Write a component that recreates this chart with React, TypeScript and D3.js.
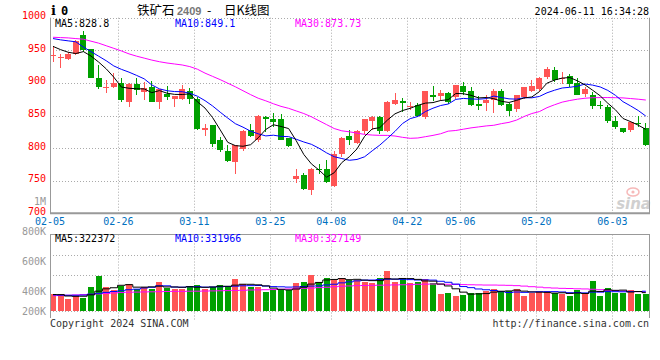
import React from "react";
import * as d3 from "d3";

const dates = [
  "02-05","02-06","02-07","02-08","02-19","02-20","02-21","02-22","02-23","02-26","02-27","02-28","02-29",
  "03-01","03-04","03-05","03-06","03-07","03-08","03-11","03-12","03-13","03-14","03-15","03-18","03-19","03-20","03-21","03-22","03-25","03-26","03-27","03-28","03-29",
  "04-01","04-02","04-03","04-08","04-09","04-10","04-11","04-12","04-15","04-16","04-17","04-18","04-19","04-22","04-23","04-24","04-25","04-26","04-29","04-30",
  "05-06","05-07","05-08","05-09","05-10","05-13","05-14","05-15","05-16","05-17","05-20","05-21","05-22","05-23","05-24","05-27","05-28","05-29","05-30","05-31",
  "06-03","06-04","06-05","06-06","06-07",
];

const opens = [942,939,937,944,973,952,907,893,893,900,871,898,886,893,870,883,876,876,888,876,827,835,813,796,779,798,827,812,848,845,844,815,753,758,736,768,768,742,791,818,808,826,841,848,826,868,873,863,866,847,882,880,884,878,896,888,867,869,874,888,867,860,878,888,890,909,920,907,911,900,883,882,866,863,841,831,827,839,831];
const highs = [957,945,948,966,979,952,927,904,915,907,900,907,902,903,890,895,880,897,892,879,837,836,817,804,804,827,837,851,849,854,853,815,768,762,769,776,782,796,817,827,827,844,849,849,873,884,877,871,869,888,895,889,886,897,901,893,880,881,891,891,869,881,894,904,909,925,924,917,913,907,894,886,873,866,849,831,842,850,838];
const lows = [932,923,935,943,948,907,891,884,892,870,863,881,874,870,860,874,863,874,868,828,819,802,794,778,761,796,817,810,825,832,812,802,746,736,728,760,746,740,787,804,806,822,827,822,825,866,855,858,848,845,873,873,867,876,882,864,859,857,854,864,849,855,876,886,888,906,901,899,893,881,879,860,860,838,830,823,825,832,803];
const closes = [943,940,945,964,950,908,893,894,900,874,899,889,892,871,890,879,880,891,876,829,831,807,797,780,804,826,819,850,844,840,813,803,757,738,768,766,748,791,816,813,826,844,848,826,871,874,869,865,849,888,878,885,871,897,886,866,865,874,888,866,857,881,893,895,907,922,905,908,899,882,891,864,865,842,832,824,840,838,805];

const ma5 = [956,951,947,945,948,941.2,932,921.6,908.8,893.6,891.8,891,890.8,885,888.2,884.2,882.4,882.2,883.2,871,861.4,846.8,828,808.8,803.8,802.8,805.2,815.8,828.6,835.8,833.2,830,811.4,790.2,775.8,766.4,755.4,762.2,777.8,786.8,798.8,818,829.4,831.4,843,852.6,857.6,861,865.6,869,869.8,873,874.2,883.8,883.4,881,877,877.6,875.8,871.8,870,873.2,877,878.4,886.6,899.6,904.4,907.4,908.2,903.2,897,888.8,880.2,868.8,858.8,845.4,840.6,835.2,828.8];
const ma10 = [968,966,964.5,963,955,948,941,934,926,920.8,916.5,911.5,906.2,896.9,890.9,888,886.7,886.5,884.1,879.6,872.8,864.6,855.1,846,837.4,832.1,826,821.9,818.7,819.8,818,817.6,813.6,809.4,805.8,799.8,792.7,786.8,784,781.3,782.6,786.7,795.8,804.6,814.9,825.7,837.8,845.2,848.5,856,861.2,865.3,867.6,874.7,876.2,875.4,875,875.9,879.8,877.6,875.5,875.1,877.3,877.1,879.2,884.8,888.8,892.2,893.3,894.9,898.3,896.6,893.8,888.5,881,871.2,864.7,857.7,849.1];
const ma30 = [970,969.5,969,968,967,964,961,957,953,949,944.5,941,938,935,932.5,930.5,929,927.5,925,921,915,910,905,899.5,894,888,882,876.5,872.5,868,864,861,857,853,848,842,836,830,826.5,825,823,821,820,819.5,819.5,818.5,816.5,815,815.5,817.5,819.5,822,826,827,829,831,832.5,834,835,837.5,839.5,843,848.5,853,856,862,866.5,870.5,873,875,876.5,877.3,877.5,877.5,877.3,877,876,875,873.73];

// volume in thousands of lots
const volumesK = [311,311,280,303,287,358,433,358,339,369,379,350,359,348,392,353,349,349,367,375,350,359,375,365,413,380,357,357,330,340,338,338,387,393,441,393,420,405,421,405,405,392,389,421,468,395,411,385,395,415,388,315,322,300,304,322,322,333,348,333,333,348,300,322,326,326,322,311,300,340,311,400,300,355,323,318,337,316,316];
const vma5K = [310,309,300,298,298.4,307.8,332.2,347.8,355,371.4,375.6,359,359.2,361,365.6,360.4,360.2,358.2,362,358.6,358,360,365.2,364.8,372.4,378.4,378,374.4,367.4,352.8,344.4,340.6,346.6,359.2,379.4,390.4,406.8,410.4,416,408.8,411.2,405.6,402.4,402.4,415,413,416.8,416,410.8,400.2,398.8,379.6,367,348,325.8,312.6,314,316.2,325.8,331.6,333.8,339,332.4,327.2,325.8,324.4,319.2,321.4,317,319.8,316.8,332.4,330.2,341.2,337.8,339.2,326.6,329.8,322.372];
const vma10K = [307,306,305,305,306,312,318,324,330,334.9,341.7,345.6,353.5,358,368.5,368,359.6,358.7,361.5,362.1,359.2,360.1,361.7,363.4,365.5,368.2,369,369.8,366.1,362.6,361.4,359.3,360.5,363.3,366.1,367.4,373.7,378.5,387.6,394.1,400.8,406.2,406.4,409.2,411.9,412.1,411.2,409.2,406.6,407.6,405.9,398.2,391.5,379.4,363,355.7,346.8,341.6,336.9,328.7,323.2,326.5,324.3,326.5,328.7,329.1,329.1,326.9,322.1,322.8,320.6,325.8,325.8,329.1,328.8,328,329.5,330,331.966];
const vma30K = [302,303,305,307,309,311,314,317,320,323,325,326,327,328,329,330,331,331,332,332,333,334,335,336,337,338,340,341,342,343,345,347,349,351,353,356,358,362,365,367,369,370,371,372,373,374,375,376,378,379,380,379,378,377,376,375,374,373,373,372,371,369,366,362,359,355,353,351,350,348,347,345,342,338,335,333,331,329,327.149];

const priceGrid = [950, 900, 850, 800, 750];
const priceLabels = [1000, 950, 900, 850, 800, 750, 700];
const volLabelsK = [800, 600, 400, 200];
const dateTicks = ["02-05","02-26","03-11","03-25","04-08","04-22","05-06","05-20","06-03"];

const RED = "#ff5555";
const GREEN = "#00a000";
const MONO = "'DejaVu Sans Mono', monospace";
const GRID = "#aaaaaa";

export default function App() {
  const left = 50;
  const step = 7.6;
  const right = 650;
  const mainTop = 17.7;
  const mainBottom = 213.3;
  const volTop = 234.5;
  const volBase = 311;
  const volBottom = 318;

  const x = d3.scaleBand<string>().domain(dates).range([left, left + dates.length * step]).padding(0);
  const sx = (i: number) => x(dates[i]) as number;
  const cx = (i: number) => sx(i) + 3;
  const y = d3.scaleLinear().domain([700, 1000]).range([mainBottom, mainTop]);
  const yv = d3.scaleLinear().domain([200, 800]).range([volBase, 221]);

  const pLine = (arr: number[]) =>
    d3.line<number>().x((_, i) => cx(i)).y((v) => y(v))(arr) || "";
  const vLine = (arr: number[]) =>
    d3.line<number>().x((_, i) => cx(i)).y((v) => yv(v)).curve(d3.curveStep)(arr) || "";

  const last = dates.length - 1;

  return (
    <svg
      width={660}
      height={360}
      viewBox="0 0 660 360"
      style={{ position: "absolute", left: 0, top: 0, background: "#fff" }}
      fontFamily={MONO}
    >
      <rect x={0} y={0} width={660} height={360} fill="#fff" />

      {/* header */}
      <text x={51} y={14.5} fontSize={13} fontWeight="bold" fill="#000" fontFamily="'DejaVu Serif', serif">i</text>
      <text x={61} y={14.5} fontSize={12} fontWeight="bold" fill="#000" fontFamily={MONO}>0</text>
      <text y={14.5} fontSize={12.5} fill="#000" fontFamily="'Noto Sans CJK SC', sans-serif">
        <tspan x={137}>铁矿石</tspan>
        <tspan x={177} fontSize={11} fontWeight="bold" fill="#777" fontFamily="'Liberation Sans', sans-serif">2409</tspan>
        <tspan x={207}>-</tspan>
        <tspan x={224}>日K线图</tspan>
      </text>
      <text x={649} y={15} fontSize={10} textAnchor="end" fill="#000">2024-06-11 16:34:28</text>

      {/* main grid */}
      {priceGrid.map((v) => (
        <line key={"hg" + v} x1={left} x2={right} y1={Math.round(y(v)) + 0.5} y2={Math.round(y(v)) + 0.5}
          stroke={GRID} strokeDasharray="1,2" />
      ))}
      <line x1={left} x2={right} y1={18.5} y2={18.5} stroke={GRID} strokeDasharray="1,2" />
      {dateTicks.map((d) => {
        const xx = Math.round(x(d) as number) + 0.5;
        return (
          <g key={"vg" + d}>
            {d !== "02-05" && (
              <line x1={xx} x2={xx} y1={mainTop} y2={mainBottom} stroke={GRID} strokeDasharray="1,2" />
            )}
            {d !== "02-05" && (
              <line x1={xx} x2={xx} y1={volTop} y2={volBottom + 3} stroke={GRID} strokeDasharray="1,2" />
            )}
          </g>
        );
      })}

      {/* watermark */}
      <g opacity={0.55}>
        <ellipse cx={633} cy={192} rx={6} ry={4} fill="none" stroke="#f08080" strokeWidth={1.5} />
        <circle cx={633} cy={192} r={1.6} fill="#f08080" />
        <text x={651} y={209} fontSize={15} fontWeight="bold" fontStyle="italic" textAnchor="end"
          fill="#aaa" fontFamily="'DejaVu Sans', sans-serif">sina</text>
      </g>

      {/* candles */}
      {dates.map((d, i) => {
        const up = closes[i] >= opens[i];
        const col = up ? RED : GREEN;
        const top = y(Math.max(opens[i], closes[i]));
        const bot = y(Math.min(opens[i], closes[i]));
        return (
          <g key={"c" + d} shapeRendering="crispEdges">
            <rect x={sx(i) + 2.5} y={y(highs[i])} width={1} height={Math.max(1, y(lows[i]) - y(highs[i]))} fill={col} />
            <rect x={sx(i)} y={top} width={6} height={Math.max(1, bot - top)} fill={col} />
          </g>
        );
      })}

      {/* MA lines */}
      <path d={pLine(ma30)} fill="none" stroke="#ff00ff" strokeWidth={1} />
      <path d={pLine(ma10)} fill="none" stroke="#0000ff" strokeWidth={1} />
      <path d={pLine(ma5)} fill="none" stroke="#000" strokeWidth={1} />

      {/* main frame */}
      <line x1={left + 0.5} x2={left + 0.5} y1={mainTop} y2={mainBottom} stroke="#999" />
      <line x1={right - 0.5} x2={right - 0.5} y1={mainTop} y2={mainBottom} stroke="#999" />
      <line x1={left} x2={right} y1={mainBottom} y2={mainBottom} stroke="#999" strokeWidth={2} />

      {/* legends */}
      <text x={55} y={27} fontSize={10} fill="#000">{`MA5:${ma5[last]}`}</text>
      <text x={175} y={27} fontSize={10} fill="#0000ff">{`MA10:${ma10[last]}`}</text>
      <text x={295} y={27} fontSize={10} fill="#ff00ff">{`MA30:${ma30[last]}`}</text>

      {/* price axis labels */}
      {priceLabels.map((v) => (
        <text key={"pl" + v} x={46} y={y(v) - 2} dy="0.35em" fontSize={10} textAnchor="end" fill="#ff0000">{v}</text>
      ))}
      <text x={46} y={201} dy="0.35em" fontSize={10} textAnchor="end" fill="#999">1M</text>

      {/* date labels */}
      {dateTicks.map((d) => (
        <text key={"dl" + d} x={x(d) as number} y={221} dy="0.35em" fontSize={10} textAnchor="middle" fill="#0070c0">{d}</text>
      ))}

      {/* volume panel */}
      <line x1={left} x2={right} y1={255.5} y2={255.5} stroke={GRID} strokeDasharray="1,2" />
      <line x1={left} x2={right} y1={275.5} y2={275.5} stroke={GRID} strokeDasharray="1,2" />
      <line x1={left} x2={right} y1={volBase + 0.5} y2={volBase + 0.5} stroke={GRID} strokeDasharray="1,2" />
      {dates.map((d, i) => {
        const up = closes[i] >= opens[i];
        return (
          <rect key={"v" + d} x={sx(i)} y={yv(volumesK[i])} width={6} height={volBase - yv(volumesK[i])}
            fill={up ? RED : GREEN} shapeRendering="crispEdges" />
        );
      })}
      <path d={vLine(vma30K)} fill="none" stroke="#ff00ff" strokeWidth={1} />
      <path d={vLine(vma10K)} fill="none" stroke="#0000ff" strokeWidth={1} />
      <path d={vLine(vma5K)} fill="none" stroke="#000" strokeWidth={1} />

      <line x1={left} x2={right} y1={volTop} y2={volTop} stroke="#999" />
      <line x1={left + 0.5} x2={left + 0.5} y1={volTop} y2={volBottom} stroke="#999" />
      <line x1={right - 0.5} x2={right - 0.5} y1={volTop} y2={volBottom} stroke="#999" />

      <text x={55} y={242} fontSize={10} fill="#000">{`MA5:${Math.round(vma5K[last] * 1000)}`}</text>
      <text x={175} y={242} fontSize={10} fill="#0000ff">{`MA10:${Math.round(vma10K[last] * 1000)}`}</text>
      <text x={295} y={242} fontSize={10} fill="#ff00ff">{`MA30:${Math.round(vma30K[last] * 1000)}`}</text>

      {volLabelsK.map((v) => (
        <text key={"vl" + v} x={46} y={Math.min(yv(v) + 10, volBase)} dy="0.35em" fontSize={10}
          textAnchor="end" fill="#999">{`${v}K`}</text>
      ))}

      {/* footer */}
      <text x={50} y={327} fontSize={10} fill="#333">Copyright 2024 SINA.COM</text>
      <text x={649} y={327} fontSize={10} textAnchor="end" fill="#333">http://finance.sina.com.cn</text>
    </svg>
  );
}
